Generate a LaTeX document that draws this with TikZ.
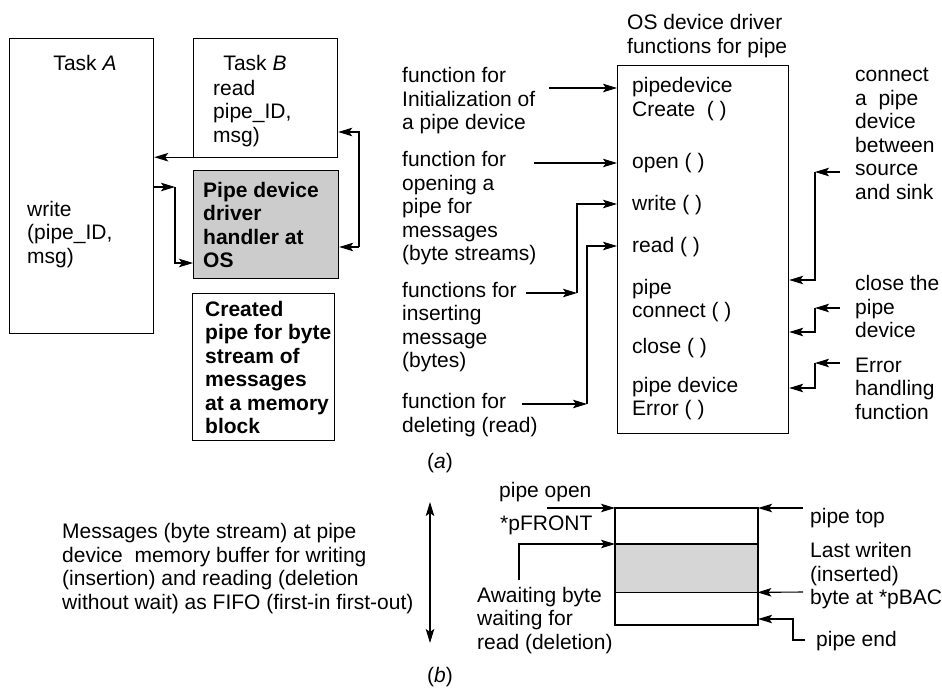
\documentclass[tikz,border=0pt]{standalone}
\usepackage{fontspec}
\setmainfont{Liberation Sans}
\usetikzlibrary{arrows.meta}
\begin{document}
\begin{tikzpicture}[x=1pt,y=-1pt,
  txt/.style={anchor=west,inner sep=0pt,align=left,font=\fontsize{21}{23.5}\selectfont},
  ctxt/.style={inner sep=0pt,align=center,font=\fontsize{21}{23.5}\selectfont},
  boxn/.style={draw,line width=1.2pt,anchor=north west,inner sep=0pt},
  arr/.style={line width=1.1pt,-{Stealth[length=14pt,width=8.5pt,inset=3pt]}},
  ln/.style={line width=1.1pt}]
\useasboundingbox (0,0) rectangle (942,688);
\clip (0,0) rectangle (942,688);
% ---------- part (a) boxes
\node[boxn,minimum width=144pt,minimum height=295pt] (taskA) at (9,38) {};
\node[boxn,minimum width=144pt,minimum height=119pt] (taskB) at (193,38) {};
\node[boxn,fill=black!20,minimum width=145pt,minimum height=108pt] (pipe) at (193,170) {};
\node[boxn,minimum width=142pt,minimum height=147pt] (created) at (192,293) {};
\node[boxn,minimum width=171pt,minimum height=368pt] (os) at (617,65) {};
% texts in boxes
\node[ctxt] (tA) at (85,63) {Task \textit{A}};
\node[txt] (wr) at (27,234.5) {write\\(pipe\_ID,\\msg)};
\node[ctxt] (tB) at (255,63) {Task \textit{B}};
\node[txt] (rd) at (213,113.5) {read\\pipe\_ID,\\msg)};
\node[txt,font=\fontsize{21}{23.5}\selectfont\bfseries] (pt) at (203,225) {Pipe device\\driver\\handler at\\OS};
\node[txt,font=\fontsize{21}{23.5}\selectfont\bfseries] (ct) at (205,367.5) {Created\\pipe for byte\\stream of\\messages\\at a memory\\block};
% OS box
\node[txt] (ost) at (627,36) {OS device driver\\functions for pipe};
\node[txt] (o1) at (632,99) {pipedevice\\Create\ \ ( )};
\node[txt] (o2) at (632,163) {open ( )};
\node[txt] (o3) at (632,205) {write ( )};
\node[txt] (o4) at (632,247) {read ( )};
\node[txt] (o5) at (632,300.5) {pipe\\connect ( )};
\node[txt] (o6) at (632,348) {close ( )};
\node[txt] (o7) at (632,398.5) {pipe device\\Error ( )};
% left labels
\node[txt] (l1) at (402,101) {function for\\Initialization of\\a pipe device};
\node[txt] (l2) at (402,208.5) {function for\\opening a\\pipe for\\messages\\(byte streams)};
\node[txt] (l3) at (402,327) {functions for\\inserting\\message\\(bytes)};
\node[txt] (l4) at (402,415) {function for\\deleting (read)};
% right labels
\node[txt] (r1) at (855,134) {connect\\a\ \ pipe\\device\\between\\source\\and sink};
\node[txt] (r2) at (855,306.5) {close the\\pipe\\device};
\node[txt] (r3) at (855,388.5) {Error\\handling\\function};
\node[ctxt] (capa) at (440,463) {(\textit{a})};
% ---------- connectors (a)
\draw[arr] (taskB.south west) ++(0,-1) coordinate (bA) -- (taskA.east |- bA);
\coordinate (wA) at (taskA.east |- 0,187);
\coordinate (wM) at (175,187);
\draw[arr] (wA) -- (wM);
\draw[arr] (wM) |- (pipe.west |- 0,263);
\coordinate (cB) at (359,132);
\coordinate (cP) at (359,247);
\draw[arr] (cP) -- (cB) -- (taskB.east |- cB);
\draw[arr] (cP) -- (pipe.east |- cP);
% to OS box
\draw[arr] (549,88) coordinate (i1) -- (os.west |- i1);
\draw[arr] (534,163) coordinate (i2) -- (os.west |- i2);
\coordinate (i3) at (526,293); \coordinate (i3m) at (577,293);
\draw[arr] (i3) -- (i3m);
\draw[arr] (i3m) |- (os.west |- 0,204);
\coordinate (i4) at (522,404); \coordinate (i4m) at (587,404);
\draw[arr] (i4) -- (i4m);
\draw[arr] (i4m) |- (os.west |- 0,246);
% from right labels
\coordinate (j1) at (840,172); \coordinate (j1m) at (815,172);
\draw[arr] (j1) -- (j1m);
\draw[arr] (j1m) |- (os.east |- 0,280);
\coordinate (j2) at (840,308); \coordinate (j2m) at (815,308);
\draw[arr] (j2) -- (j2m);
\draw[arr] (j2m) |- (os.east |- 0,332);
\coordinate (j3) at (840,363); \coordinate (j3m) at (815,363);
\draw[arr] (j3) -- (j3m);
\draw[arr] (j3m) |- (os.east |- 0,388);
% ---------- part (b)
\node[txt] (msg) at (62,568.5) {Messages (byte stream) at pipe\\device\ \ memory buffer for writing\\(insertion) and reading (deletion\\without wait) as FIFO (first-in first-out)};
\coordinate (dt) at (430,502); \coordinate (db) at (430,643);
\draw[line width=1.1pt,{Stealth[length=14pt,width=8.5pt,inset=3pt]}-{Stealth[length=14pt,width=8.5pt,inset=3pt]}] (dt) -- (db);
\node[ctxt] (capb) at (440,677) {(\textit{b})};
\node[boxn,line width=1.1pt,minimum width=142pt,minimum height=116pt] (buf) at (615,508) {};
\node[anchor=north west,inner sep=0pt,fill=black!16,minimum width=142pt,minimum height=48pt] (band) at (615,544) {};
\draw[line width=1.6pt] (band.north west) -- (band.north east);
\draw[line width=1.6pt] (band.south west) -- (band.south east);
\draw[line width=1.1pt] (buf.north west) rectangle (buf.south east);
\node[txt] (po) at (499,492) {pipe open};
\node[txt] (pf) at (500,525) {*pFRONT};
\node[txt] (aw) at (477,620.5) {Awaiting byte\\waiting for\\read (deletion)};
\node[txt] (ptop) at (810,518) {pipe top};
\node[txt] (lw) at (810,576) {Last writen\\(inserted)\\byte at *pBACK};
\node[txt] (pe) at (816,641) {pipe end};
\draw[arr] (547,508) coordinate (k1) -- (buf.north west);
\draw[arr] (519,580) coordinate (k2) |- (band.north west);
\draw[arr] (803,508) coordinate (k3) -- (buf.north east);
\draw[arr] (803,592) coordinate (k4) -- (band.south east);
\coordinate (k5) at (805,640); \coordinate (k5m) at (793,640);
\draw[arr] (k5) -- (k5m) |- (buf.east |- 0,619);
\end{tikzpicture}
\end{document}
